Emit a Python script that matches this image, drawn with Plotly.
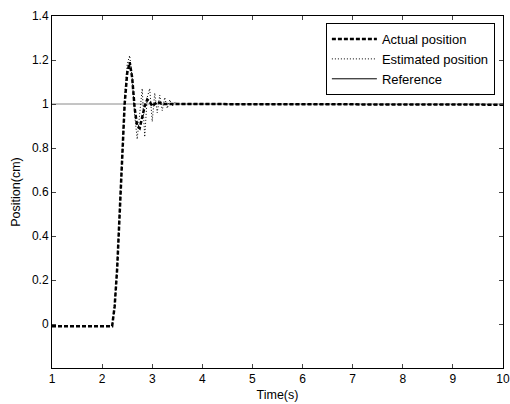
import plotly.graph_objects as go

# Actual position (dashed)
t_act = [1, 2.2, 2.25, 2.3, 2.35, 2.4, 2.45, 2.5, 2.55, 2.6, 2.65, 2.7, 2.75, 2.8, 2.85,
         2.9, 2.95, 3.0, 3.05, 3.1, 3.2, 3.3, 3.5, 4, 6, 8, 10]
v_act = [-0.01, -0.01, 0.08, 0.25, 0.5, 0.78, 1.0, 1.14, 1.19, 1.12, 0.98, 0.9, 0.89, 0.94, 0.99,
         1.02, 1.01, 0.99, 1.0, 1.01, 1.0, 1.0, 1.0, 1.0, 1.0, 0.998, 0.997]

# Estimated position (dotted)
t_est = [1, 2.2, 2.25, 2.3, 2.35, 2.4, 2.45, 2.5, 2.55, 2.6, 2.65, 2.7, 2.75, 2.8, 2.85, 2.9,
         2.95, 3.0, 3.05, 3.1, 3.15, 3.2, 3.25, 3.3, 3.35, 3.4, 3.45, 3.5, 4, 6, 8, 10]
v_est = [-0.01, -0.01, 0.09, 0.27, 0.53, 0.81, 1.04, 1.18, 1.22, 1.12, 0.95, 0.84, 0.96, 1.07, 0.85, 1.03,
         1.07, 0.92, 1.05, 0.96, 1.04, 0.97, 1.03, 0.98, 1.02, 0.99, 1.01, 1.0, 1.0, 1.0, 0.998, 0.997]

# Reference
t_ref = [1, 10]
v_ref = [1, 1]

x_ticks = [1, 2, 3, 4, 5, 6, 7, 8, 9, 10]
y_ticks = [0, 0.2, 0.4, 0.6, 0.8, 1, 1.2, 1.4]
y_labels = ["0", "0.2", "0.4", "0.6", "0.8", "1", "1.2", "1.4"]

fig = go.Figure()
fig.add_trace(go.Scatter(x=t_ref, y=v_ref, mode="lines", name="Reference",
                         line=dict(color="#8a8a8a", width=1), showlegend=False))
fig.add_trace(go.Scatter(x=t_est, y=v_est, mode="lines", name="Estimated position",
                         line=dict(color="black", width=1, dash="1px,2px"), showlegend=False))
fig.add_trace(go.Scatter(x=t_act, y=v_act, mode="lines", name="Actual position",
                         line=dict(color="black", width=2.5, dash="4px,2px")))
fig.add_trace(go.Scatter(x=[None], y=[None], mode="lines", name="Estimated position",
                         line=dict(color="black", width=1, dash="1px,2px")))
fig.add_trace(go.Scatter(x=[None], y=[None], mode="lines", name="Reference",
                         line=dict(color="black", width=1)))

fig.update_layout(
    width=510, height=404,
    margin=dict(l=52, r=7, t=16, b=36, autoexpand=False),
    paper_bgcolor="white", plot_bgcolor="white",
    font=dict(family="Liberation Sans, Arial, sans-serif", size=12, color="black"),
    legend=dict(x=0.982, xanchor="right", y=0.98, yanchor="top",
                bordercolor="black", borderwidth=1, bgcolor="white",
                font=dict(size=13), tracegroupgap=0, itemwidth=45),
)
fig.update_xaxes(range=[1, 10], tickvals=x_ticks, ticks="inside", ticklen=4,
                 showline=True, linecolor="black", linewidth=1, mirror="ticks",
                 showgrid=False, zeroline=False, automargin=False,
                 ticklabeloverflow="allow",
                 title=dict(text="Time(s)", standoff=4, font=dict(size=12.5)),
                 tickfont=dict(size=12))
fig.update_yaxes(range=[-0.2, 1.4], tickvals=y_ticks, ticktext=y_labels, ticks="inside", ticklen=4,
                 showline=True, linecolor="black", linewidth=1, mirror="ticks",
                 showgrid=False, zeroline=False, automargin=False,
                 ticklabeloverflow="allow",
                 title=dict(text="Position(cm)", standoff=8, font=dict(size=12.5)),
                 tickfont=dict(size=12))

fig.write_html("out.html", config={"displayModeBar": False},
               post_script="document.body.style.margin='0';document.body.style.overflow='hidden';")
